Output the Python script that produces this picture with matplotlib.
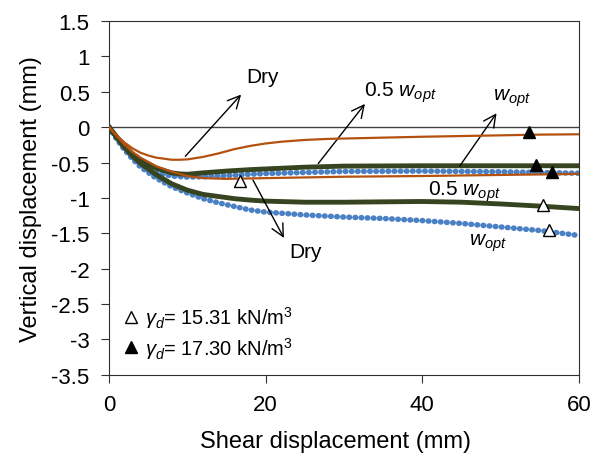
import matplotlib.pyplot as plt
from matplotlib.lines import Line2D

plt.rcParams['font.family'] = ['Liberation Sans', 'DejaVu Sans']
plt.rcParams['mathtext.fontset'] = 'custom'
plt.rcParams['mathtext.rm'] = 'Liberation Sans'
plt.rcParams['mathtext.it'] = 'Liberation Sans:italic'

# data (shear displacement mm, vertical displacement mm)
dry_hi_x = [0, 1, 2, 3, 4, 5, 6, 8, 9, 10, 12, 14, 16, 18, 20, 22, 25, 28, 32, 36, 40, 45, 50, 55, 60]
dry_hi_y = [0, -0.12, -0.22, -0.30, -0.36, -0.40, -0.43, -0.46, -0.46, -0.455, -0.42, -0.37, -0.31,
            -0.265, -0.23, -0.205, -0.18, -0.165, -0.155, -0.145, -0.135, -0.125, -0.115, -0.105, -0.10]

dry_lo_x = [0, 1, 2, 3, 4, 6, 8, 10, 12, 15, 20, 25, 30, 40, 50, 60]
dry_lo_y = [0, -0.13, -0.25, -0.35, -0.43, -0.55, -0.63, -0.69, -0.72, -0.73, -0.72, -0.71,
            -0.70, -0.69, -0.675, -0.66]

half_hi_x = [0, 1, 2, 3, 4, 6, 8, 9, 10, 12, 15, 18, 20, 25, 30, 40, 50, 60]
half_hi_y = [0, -0.14, -0.27, -0.38, -0.46, -0.58, -0.645, -0.66, -0.665, -0.645, -0.62, -0.60,
             -0.59, -0.565, -0.55, -0.545, -0.545, -0.545]

half_lo_x = [0, 1, 2, 3, 4, 6, 8, 10, 12, 14, 16, 18, 20, 25, 30, 35, 40, 45, 50, 55, 60]
half_lo_y = [0, -0.15, -0.29, -0.41, -0.51, -0.67, -0.80, -0.89, -0.95, -0.98, -1.01, -1.03,
             -1.045, -1.06, -1.06, -1.055, -1.05, -1.06, -1.085, -1.115, -1.15]

opt_hi_x = [0, 1, 2, 3, 4, 5, 6, 8, 10, 12, 15, 18, 20, 25, 30, 40, 50, 60]
opt_hi_y = [0, -0.17, -0.32, -0.44, -0.54, -0.60, -0.645, -0.69, -0.705, -0.70, -0.685, -0.665,
            -0.655, -0.64, -0.625, -0.62, -0.63, -0.65]

opt_lo_x = [0, 1, 2, 3, 4, 6, 8, 10, 12, 14, 16, 18, 20, 25, 30, 35, 40, 45, 50, 55, 60]
opt_lo_y = [0, -0.17, -0.32, -0.45, -0.56, -0.72, -0.84, -0.93, -1.01, -1.07, -1.12, -1.17,
            -1.20, -1.24, -1.27, -1.29, -1.32, -1.36, -1.41, -1.46, -1.53]

# triangle markers tagging each curve
open_tri_x = [16.7, 55.4, 56.2]
open_tri_y = [-0.76, -1.10, -1.46]
fill_tri_x = [53.7, 54.5, 56.6]
fill_tri_y = [-0.07, -0.53, -0.63]

orange = '#b4510f'
green = '#36441f'
blue = '#4a80c4'

fig = plt.figure(figsize=(5.93, 4.60), dpi=100)
ax = fig.add_axes([0.184, 0.183, 0.792, 0.769])

ax.axhline(0, color='#404040', lw=1.0, zorder=1)

dots = (0, (0.1, 1.0))
ax.plot(opt_lo_x, opt_lo_y, color=blue, lw=4, ls=dots, dash_capstyle='round', zorder=2)
ax.plot(opt_hi_x, opt_hi_y, color=blue, lw=4, ls=dots, dash_capstyle='round', zorder=2)
ax.plot(half_lo_x, half_lo_y, color=green, lw=3.5, zorder=3)
ax.plot(half_hi_x, half_hi_y, color=green, lw=3.5, zorder=3)
ax.plot(dry_lo_x, dry_lo_y, color=orange, lw=1.6, zorder=4)
ax.plot(dry_hi_x, dry_hi_y, color=orange, lw=1.6, zorder=4)

ax.plot(open_tri_x, open_tri_y, ls='none', marker='^', ms=9, mfc='white', mec='black', mew=1.0, zorder=5)
ax.plot(fill_tri_x, fill_tri_y, ls='none', marker='^', ms=9, mfc='black', mec='black', zorder=5)

arrow = dict(arrowstyle='->', color='black', lw=1.0, mutation_scale=22)
ax.annotate('', xy=(17.1, 0.49), xytext=(9.5, -0.44), arrowprops=arrow)
ax.annotate('', xy=(32.9, 0.36), xytext=(26.5, -0.545), arrowprops=arrow)
ax.annotate('', xy=(49.7, 0.23), xytext=(44.6, -0.58), arrowprops=arrow)
ax.annotate('', xy=(22.5, -1.6), xytext=(18.2, -0.71), arrowprops=arrow)

fs = 15
ax.text(17.5, 0.72, 'Dry', fontsize=fs, va='center')
ax.text(32.5, 0.5, r'0.5 $w_{opt}$', fontsize=fs, va='center')
ax.text(49.1, 0.42, r'$w_{opt}$', fontsize=fs, va='center')
ax.text(40.8, -0.9, r'0.5 $w_{opt}$', fontsize=fs, va='center')
ax.text(46.0, -1.62, r'$w_{opt}$', fontsize=fs, va='center')
ax.text(23.0, -1.76, 'Dry', fontsize=fs, va='center')

handles = [Line2D([], [], ls='none', marker='^', ms=8, mfc='white', mec='black'),
           Line2D([], [], ls='none', marker='^', ms=8, mfc='black', mec='black')]
labels = [r'$\gamma_d$= 15.31 kN/m$^3$', r'$\gamma_d$= 17.30 kN/m$^3$']
ax.legend(handles, labels, loc='lower left', frameon=False, fontsize=14.5,
          handlelength=0.8, handletextpad=0.3, labelspacing=0.25, borderaxespad=0.3)

ax.set_xlim(0, 60)
ax.set_ylim(-3.5, 1.5)
ax.set_xticks([0, 20, 40, 60])
ax.set_yticks([1.5, 1, 0.5, 0, -0.5, -1, -1.5, -2, -2.5, -3, -3.5])
ax.set_yticklabels(['1.5', '1', '0.5', '0', '-0.5', '-1', '-1.5', '-2', '-2.5', '-3', '-3.5'])
ax.tick_params(direction='out', length=6, labelsize=16, color='#303030')
ax.tick_params(axis='y', pad=8)
ax.tick_params(axis='x', pad=8)
for s in ax.spines.values():
    s.set_color('#303030')
ax.set_xlabel('Shear displacement (mm)', fontsize=17, labelpad=10)
ax.xaxis.set_label_coords(0.482, -0.155)
ax.set_ylabel('Vertical displacement (mm)', fontsize=17, labelpad=7)

fig.savefig('out.png', dpi=100)
